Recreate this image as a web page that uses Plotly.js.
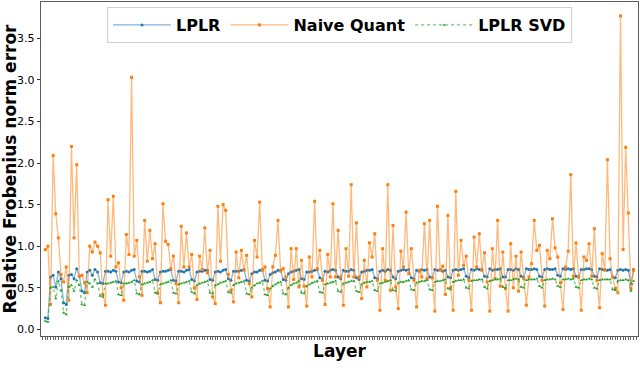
<!DOCTYPE html>
<html>
<head>
<meta charset="utf-8">
<script src="https://cdn.plot.ly/plotly-3.0.1.min.js"></script>
<style>
  html, body { margin: 0; padding: 0; background: #fff; }
  #plot { width: 640px; height: 379px; }
</style>
</head>
<body>
<div id="plot"></div>
<script>
// relative Frobenius norm error per layer (7 matrices per transformer block)
const lplr = [
  0.14,0.13,0.63,0.65,0.51,0.69,0.61,
  0.32,0.30,0.65,0.66,0.61,0.73,0.64,
  0.46,0.44,0.69,0.71,0.65,0.72,0.69,
  0.56,0.55,0.70,0.70,0.69,0.71,0.70,
  0.57,0.56,0.69,0.70,0.69,0.71,0.72,
  0.58,0.57,0.70,0.70,0.69,0.70,0.72,
  0.60,0.59,0.69,0.70,0.70,0.71,0.72,
  0.59,0.58,0.70,0.70,0.69,0.71,0.72,
  0.60,0.58,0.69,0.70,0.70,0.71,0.71,
  0.60,0.59,0.69,0.70,0.69,0.71,0.72,
  0.61,0.59,0.70,0.70,0.70,0.71,0.72,
  0.59,0.58,0.67,0.69,0.69,0.71,0.72,
  0.59,0.58,0.66,0.68,0.69,0.71,0.71,
  0.60,0.59,0.67,0.69,0.70,0.71,0.72,
  0.61,0.60,0.69,0.69,0.70,0.71,0.72,
  0.62,0.60,0.70,0.69,0.71,0.72,0.71,
  0.63,0.61,0.71,0.70,0.70,0.72,0.71,
  0.62,0.60,0.69,0.70,0.71,0.71,0.72,
  0.62,0.61,0.70,0.71,0.70,0.72,0.71,
  0.63,0.61,0.70,0.71,0.72,0.71,0.72,
  0.62,0.61,0.71,0.70,0.72,0.71,0.72,
  0.63,0.62,0.72,0.71,0.72,0.70,0.71,
  0.63,0.62,0.71,0.72,0.71,0.72,0.73,
  0.64,0.62,0.72,0.71,0.73,0.72,0.72,
  0.64,0.63,0.73,0.71,0.72,0.72,0.73,
  0.63,0.63,0.72,0.72,0.71,0.73,0.72,
  0.64,0.62,0.73,0.72,0.72,0.73,0.72,
  0.64,0.63,0.72,0.73,0.72,0.72,0.73,
  0.65,0.64,0.73,0.72,0.73,0.72,0.73,
  0.64,0.63,0.72,0.72,0.73,0.73,0.72,
  0.64,0.63,0.73,0.72,0.72,0.71,0.72,
  0.63,0.62,0.71,0.72,0.71,0.72,0.71,
  0.55,0.71
];

const naiveQuant = [
  0.96,1.00,0.30,2.09,1.39,1.10,0.66,0.57,0.75,0.35,
  2.20,1.10,1.98,0.64,0.65,0.56,0.44,1.00,0.93,1.05,
  1.00,0.92,0.42,0.29,1.56,0.88,1.60,0.75,0.80,0.50,
  0.35,1.14,0.90,3.03,0.88,1.07,0.63,0.41,1.31,0.82,
  1.19,0.85,1.03,0.44,0.32,1.51,1.06,1.02,0.73,0.88,
  0.55,0.32,1.24,0.75,1.16,0.75,0.90,0.50,0.36,0.88,
  0.72,1.22,0.68,0.95,0.39,0.31,1.48,0.82,1.50,1.43,
  0.66,0.47,0.33,0.93,0.62,0.95,0.71,0.89,0.55,0.39,
  1.07,0.87,1.53,0.71,0.75,0.49,0.27,0.75,0.89,1.31,
  0.70,0.73,0.63,0.27,0.97,0.60,0.97,0.51,0.83,0.52,
  0.28,0.87,0.63,1.54,0.73,0.95,0.59,0.30,0.90,0.63,
  1.51,0.63,1.19,0.63,0.29,0.97,0.64,1.74,0.63,1.28,
  0.63,0.37,0.83,0.51,1.04,0.87,1.15,0.59,0.23,0.97,
  0.59,1.74,0.47,1.25,0.51,0.25,0.94,0.75,1.41,0.67,
  0.97,0.59,0.27,0.71,0.63,1.27,0.61,1.31,0.62,0.22,
  1.48,0.71,0.76,0.42,1.37,0.50,0.23,1.66,0.65,1.07,
  0.77,0.88,0.59,0.23,1.11,0.75,1.15,0.71,0.92,0.57,
  0.22,0.97,0.61,1.31,0.52,0.93,0.49,0.22,1.03,0.50,
  0.88,0.46,0.93,0.61,0.29,0.63,0.79,1.31,0.95,1.01,
  0.59,0.28,0.95,0.85,1.33,0.98,0.87,0.56,0.24,0.75,
  0.94,1.86,0.64,1.04,0.63,0.23,0.87,0.83,1.03,0.64,
  1.21,0.59,0.26,0.91,0.71,2.04,0.85,0.63,0.49,0.44,
  3.77,0.96,2.19,1.40,0.49,0.72
];

const lplrSvd = [
  0.10,0.09,0.50,0.51,0.37,0.58,0.47,
  0.20,0.18,0.51,0.53,0.46,0.59,0.53,
  0.30,0.29,0.57,0.55,0.51,0.60,0.55,
  0.40,0.39,0.55,0.55,0.56,0.57,0.58,
  0.42,0.41,0.55,0.55,0.56,0.57,0.59,
  0.43,0.42,0.54,0.55,0.56,0.57,0.59,
  0.44,0.43,0.54,0.55,0.56,0.57,0.59,
  0.44,0.43,0.54,0.55,0.56,0.57,0.58,
  0.45,0.43,0.53,0.55,0.56,0.57,0.58,
  0.44,0.43,0.53,0.54,0.56,0.57,0.58,
  0.45,0.44,0.53,0.55,0.56,0.57,0.58,
  0.43,0.42,0.50,0.53,0.55,0.56,0.58,
  0.42,0.41,0.49,0.52,0.54,0.56,0.57,
  0.43,0.42,0.50,0.53,0.55,0.56,0.58,
  0.44,0.43,0.52,0.54,0.56,0.57,0.58,
  0.45,0.44,0.54,0.55,0.56,0.57,0.58,
  0.46,0.45,0.55,0.56,0.57,0.58,0.58,
  0.46,0.45,0.54,0.56,0.57,0.57,0.58,
  0.47,0.46,0.55,0.56,0.57,0.58,0.59,
  0.47,0.46,0.56,0.57,0.57,0.58,0.59,
  0.48,0.47,0.56,0.57,0.58,0.58,0.59,
  0.48,0.47,0.57,0.58,0.58,0.59,0.60,
  0.49,0.48,0.57,0.58,0.59,0.59,0.60,
  0.50,0.49,0.58,0.59,0.59,0.60,0.60,
  0.51,0.49,0.58,0.59,0.60,0.60,0.61,
  0.51,0.50,0.59,0.59,0.60,0.61,0.60,
  0.51,0.50,0.59,0.60,0.60,0.60,0.61,
  0.52,0.50,0.59,0.60,0.60,0.61,0.60,
  0.52,0.51,0.60,0.60,0.61,0.60,0.61,
  0.51,0.50,0.59,0.60,0.60,0.61,0.60,
  0.50,0.49,0.59,0.60,0.60,0.60,0.60,
  0.48,0.47,0.58,0.59,0.59,0.60,0.59,
  0.46,0.58
];

const yTicks = [0.0, 0.5, 1.0, 1.5, 2.0, 2.5, 3.0, 3.5];

// layer index on the x axis
let layers = naiveQuant.map((v, i) => i);

let lplrTrace = {
    x: layers,
    y: lplr,
    name: "LPLR",
    type: "scatter",
    mode: "lines+markers",
    line: { color: "rgba(31,119,180,0.55)", width: 1.3 },
    marker: { color: "#1f77b4", size: 3, symbol: "circle" }
};

let naiveTrace = {
    x: layers,
    y: naiveQuant,
    name: "Naive Quant",
    type: "scatter",
    mode: "lines+markers",
    line: { color: "rgba(255,127,14,0.55)", width: 1.3 },
    marker: { color: "#ff7f0e", size: 3, symbol: "square" }
};

let svdTrace = {
    x: layers,
    y: lplrSvd,
    name: "LPLR SVD",
    type: "scatter",
    mode: "lines+markers",
    line: { color: "rgba(44,160,44,0.65)", width: 1.3, dash: "dot" },
    marker: { color: "#2ca02c", size: 3, symbol: "triangle-up" }
};

let layout = {
    width: 640,
    height: 379,
    margin: { l: 41, r: 2, t: 2, b: 43 },
    paper_bgcolor: "#fff",
    plot_bgcolor: "#fff",
    font: { family: "DejaVu Sans", color: "#000" },
    showlegend: true,
    legend: {
        orientation: "h",
        x: 0.5,
        xanchor: "center",
        y: 0.985,
        yanchor: "top",
        bgcolor: "rgba(255,255,255,0.8)",
        bordercolor: "#d0d0d0",
        borderwidth: 1,
        font: { family: "DejaVu Sans", size: 16, weight: "bold", color: "#000" },
        itemwidth: 58,
        traceorder: "normal"
    },
    xaxis: {
        range: [-1.65, 226.7],
        tickmode: "linear",
        tick0: 0,
        dtick: 1,
        ticks: "outside",
        ticklen: 3,
        tickwidth: 0.6,
        tickcolor: "#000",
        showticklabels: false,
        showgrid: false,
        zeroline: false,
        showline: true,
        mirror: true,
        linecolor: "#333",
        linewidth: 0.8,
        title: {
            text: "Layer",
            font: { family: "DejaVu Sans", size: 17, weight: "bold", color: "#000" },
            standoff: 6
        }
    },
    yaxis: {
        range: [-0.08, 3.937],
        tickmode: "array",
        tickvals: yTicks,
        ticktext: yTicks.map(v => v.toFixed(1)),
        ticks: "outside",
        ticklen: 3.5,
        tickwidth: 0.8,
        tickcolor: "#000",
        tickfont: { family: "DejaVu Sans", size: 11, color: "#000" },
        showgrid: false,
        zeroline: false,
        showline: true,
        mirror: true,
        linecolor: "#333",
        linewidth: 0.8,
        title: {
            text: "Relative Frobenius norm error",
            font: { family: "DejaVu Sans", size: 17, weight: "bold", color: "#000" },
            standoff: 5
        }
    }
};

Plotly.newPlot("plot", [lplrTrace, naiveTrace, svdTrace], layout, { staticPlot: true });
</script>
</body>
</html>
